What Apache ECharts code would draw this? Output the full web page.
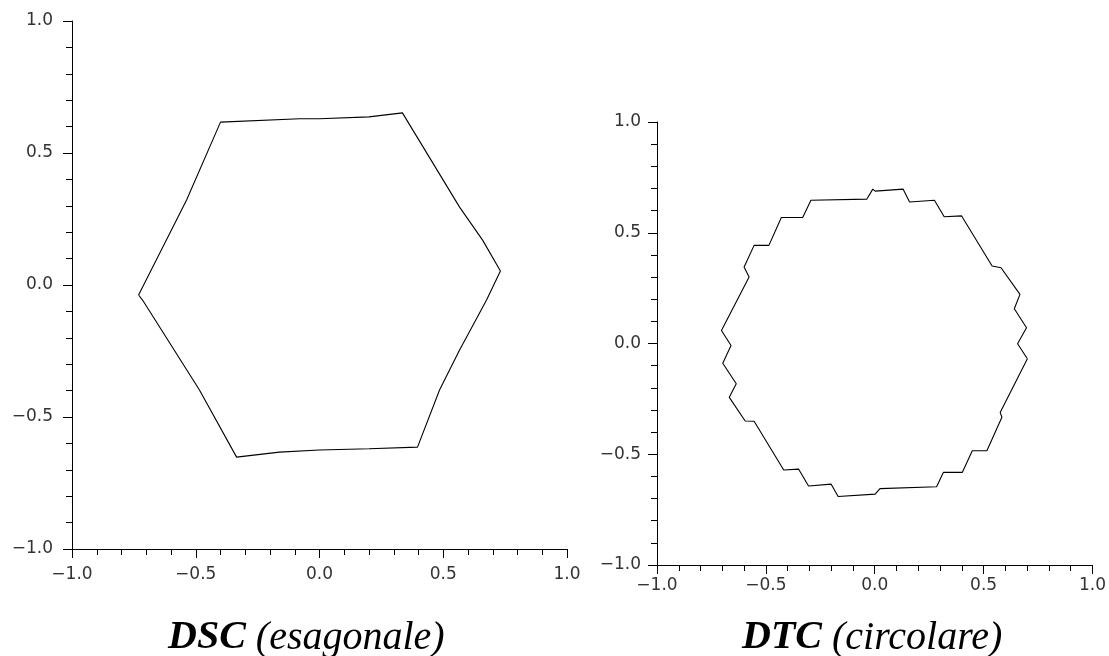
<!DOCTYPE html>
<html>
<head>
<meta charset="utf-8">
<script src="https://cdn.jsdelivr.net/npm/echarts@6/dist/echarts.min.js"></script>
<style>
  html, body { margin: 0; padding: 0; background: #fff; }
  #chart { width: 1109px; height: 656px; }
</style>
</head>
<body>
<div id="chart"></div>
<script>
// axis ticks shared by both panels
const tickValues = [-1.0, -0.5, 0.0, 0.5, 1.0];

// DSC (hexagonal) boundary
const dscX = [-0.731, -0.537, -0.400, -0.080, 0.000, 0.200, 0.335, 0.566, 0.659, 0.731,
              0.675, 0.566, 0.485, 0.396, 0.200, 0.000, -0.162, -0.335, -0.485, -0.715, -0.731];
const dscY = [-0.038, 0.322, 0.617, 0.630, 0.630, 0.637, 0.652, 0.295, 0.170, 0.053,
              -0.057, -0.246, -0.398, -0.614, -0.620, -0.625, -0.633, -0.652, -0.398, -0.057, -0.038];

// DTC (circular) boundary
const dtcX = [0.701, 0.656, 0.697, 0.641, 0.667, 0.580, 0.539, 0.399, 0.319, 0.274,
              0.160, 0.130, 0.002, -0.009, -0.036, -0.293, -0.331, -0.429, -0.486, -0.554,
              -0.600, -0.577, -0.704, -0.660, -0.698, -0.636, -0.668, -0.595, -0.554, -0.418,
              -0.350, -0.304, -0.200, -0.168, 0.002, 0.024, 0.284, 0.315, 0.402, 0.448,
              0.515, 0.584, 0.576, 0.701];
const dtcY = [-0.069, -0.001, 0.071, 0.157, 0.222, 0.342, 0.350, 0.576, 0.572, 0.647,
              0.639, 0.697, 0.688, 0.697, 0.652, 0.647, 0.569, 0.569, 0.443, 0.443,
              0.345, 0.300, 0.059, -0.009, -0.089, -0.182, -0.243, -0.350, -0.351, -0.571,
              -0.567, -0.643, -0.635, -0.691, -0.680, -0.655, -0.647, -0.582, -0.582, -0.484,
              -0.484, -0.333, -0.311, -0.069];

const fmt = v => (v < 0 ? "\u2212" : "") + Math.abs(v).toFixed(1);

function makeAxis(gridIndex, margin) {
    return {
        type: "value",
        gridIndex: gridIndex,
        min: tickValues[0],
        max: tickValues[tickValues.length - 1],
        interval: tickValues[1] - tickValues[0],
        axisLine: { onZero: false, lineStyle: { color: "#000", width: 1 } },
        axisTick: { length: 9, lineStyle: { color: "#000", width: 1 } },
        minorTick: { show: true, splitNumber: 5, length: 6, lineStyle: { color: "#000", width: 1 } },
        splitLine: { show: false },
        axisLabel: {
            margin: margin,
            formatter: fmt,
            fontFamily: "DejaVu Sans",
            fontSize: 17,
            color: "#333",
        },
    };
}

const titleRich = {
    b: { fontFamily: "Liberation Serif", fontStyle: "italic", fontWeight: "bold", fontSize: 40, color: "#000" },
    i: { fontFamily: "Liberation Serif", fontStyle: "italic", fontWeight: "normal", fontSize: 40, color: "#000" },
};

const chart = echarts.init(document.getElementById("chart"));
chart.setOption({
    animation: false,
    backgroundColor: "#fff",
    title: [
        {
            text: "{b|DSC}{i| (esagonale)}",
            left: 168, top: 618, padding: 0,
            textStyle: { fontFamily: "Liberation Serif", fontSize: 40, rich: titleRich },
        },
        {
            text: "{b|DTC}{i| (circolare)}",
            left: 742, top: 618, padding: 0,
            textStyle: { fontFamily: "Liberation Serif", fontSize: 40, rich: titleRich },
        },
    ],
    grid: [
        { left: 72, right: 542, top: 21, bottom: 107 },
        { left: 657, right: 11, top: 122, bottom: 91 },
    ],
    xAxis: [makeAxis(0, 17), makeAxis(1, 12)],
    yAxis: [makeAxis(0, 19), makeAxis(1, 16)],
    series: [
        {
            type: "line",
            xAxisIndex: 0, yAxisIndex: 0,
            data: dscX.map((x, i) => [x, dscY[i]]),
            showSymbol: false,
            lineStyle: { color: "#000", width: 1.1 },
        },
        {
            type: "line",
            xAxisIndex: 1, yAxisIndex: 1,
            data: dtcX.map((x, i) => [x, dtcY[i]]),
            showSymbol: false,
            lineStyle: { color: "#000", width: 1.1 },
        },
    ],
});
</script>
</body>
</html>
